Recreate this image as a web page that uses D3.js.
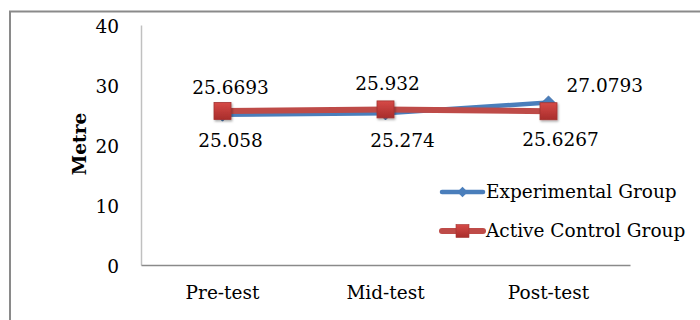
<!DOCTYPE html>
<html>
<head>
<meta charset="utf-8">
<script src="https://cdn.jsdelivr.net/npm/d3@7"></script>
<style>
  html, body { margin: 0; padding: 0; background: #fff; }
  svg { display: block; }
  text { font-family: "DejaVu Serif", "Liberation Serif", serif; fill: #000; }
</style>
</head>
<body>
<svg id="chart" width="700" height="320"></svg>
<script>
// Test phases and group means (metres)
const categories = ["Pre-test", "Mid-test", "Post-test"];
const experimental = [25.058, 25.274, 27.0793];
const activeControl = [25.6693, 25.932, 25.6267];
const yTicks = [0, 10, 20, 30, 40];
const seriesNames = ["Experimental Group", "Active Control Group"];

const FS = 18.5;
const svg = d3.select("#chart");

// outer frame
svg.append("rect")
  .attr("x", 10).attr("y", 11.5)
  .attr("width", 700).attr("height", 330)
  .attr("fill", "none").attr("stroke", "#8a8a8a").attr("stroke-width", 2);

const x = d3.scaleBand().domain(categories).range([141, 630]);
const y = d3.scaleLinear().domain([0, 40]).range([265, 25]);
const cx = c => x(c) + x.bandwidth() / 2;

// defs: gradient for the square markers
const defs = svg.append("defs");
const grad = defs.append("linearGradient").attr("id", "sqGrad")
  .attr("x1", "0").attr("y1", "0").attr("x2", "0").attr("y2", "1");
grad.append("stop").attr("offset", "0%").attr("stop-color", "#d64a47");
grad.append("stop").attr("offset", "100%").attr("stop-color", "#a82d2b");
const shadow = defs.append("filter").attr("id", "shadow")
  .attr("x", "-50%").attr("y", "-50%").attr("width", "200%").attr("height", "200%");
shadow.append("feDropShadow").attr("dx", 1).attr("dy", 1.5).attr("stdDeviation", 1.2)
  .attr("flood-color", "#000").attr("flood-opacity", 0.35);

// y axis
const yAxis = svg.append("g").attr("transform", "translate(141,0)")
  .call(d3.axisLeft(y).tickValues(yTicks).tickSize(0).tickPadding(22));
yAxis.select(".domain").attr("stroke", "#c0c0c0").attr("stroke-width", 1.5);
yAxis.selectAll("text")
  .attr("font-family", "DejaVu Serif").attr("font-size", FS).attr("dy", "0.38em");

// x axis
const xAxis = svg.append("g").attr("transform", "translate(0,265)")
  .call(d3.axisBottom(x).tickSize(0).tickPadding(21));
xAxis.select(".domain").attr("stroke", "#8a8a8a").attr("stroke-width", 1.5);
xAxis.selectAll("text")
  .attr("font-family", "DejaVu Serif").attr("font-size", FS).attr("dy", "0.71em");

// y axis title
svg.append("text")
  .attr("transform", "translate(86,144) rotate(-90)")
  .attr("text-anchor", "middle")
  .attr("font-size", FS).attr("font-weight", "bold")
  .text("Metre");

const line = d3.line().x((d, i) => cx(categories[i])).y(d => y(d));

// Experimental group: blue line with diamond markers
svg.append("path").datum(experimental)
  .attr("d", line).attr("fill", "none")
  .attr("stroke", "#4a7ebb").attr("stroke-width", 4.5).attr("stroke-linejoin", "round");
svg.selectAll(".diamond").data(experimental).join("path")
  .attr("class", "diamond")
  .attr("d", d3.symbol(d3.symbolDiamond2, 110))
  .attr("transform", (d, i) => `translate(${cx(categories[i])},${y(d)})`)
  .attr("fill", "#4a7ebb").attr("stroke", "#3b6aa5").attr("stroke-width", 0.8);

// Active control group: red line with square markers
svg.append("path").datum(activeControl)
  .attr("d", line).attr("fill", "none")
  .attr("stroke", "#be4b48").attr("stroke-width", 6).attr("stroke-linejoin", "round");
svg.selectAll(".square").data(activeControl).join("rect")
  .attr("class", "square")
  .attr("x", (d, i) => cx(categories[i]) - 8.5)
  .attr("y", d => y(d) - 8.5)
  .attr("width", 17).attr("height", 17)
  .attr("fill", "url(#sqGrad)").attr("stroke", "#a33431").attr("stroke-width", 0.8)
  .attr("filter", "url(#shadow)");

// value labels
const expLabelOffsets = [[8, 32], [17, 34], [18, -10.5]];
const ctlLabelOffsets = [[8, -17], [2, -19], [12, 35]];
const expAnchor = ["middle", "middle", "start"];

svg.selectAll(".expLabel").data(experimental).join("text")
  .attr("class", "expLabel")
  .attr("x", (d, i) => cx(categories[i]) + expLabelOffsets[i][0])
  .attr("y", d => y(d))
  .attr("dy", (d, i) => expLabelOffsets[i][1])
  .attr("text-anchor", (d, i) => expAnchor[i])
  .attr("font-size", FS)
  .text(d => d);

svg.selectAll(".ctlLabel").data(activeControl).join("text")
  .attr("class", "ctlLabel")
  .attr("x", (d, i) => cx(categories[i]) + ctlLabelOffsets[i][0])
  .attr("y", d => y(d))
  .attr("dy", (d, i) => ctlLabelOffsets[i][1])
  .attr("text-anchor", "middle")
  .attr("font-size", FS)
  .text(d => d);

// legend
const legend = svg.append("g").attr("transform", "translate(442,0)");
const legRows = [
  { name: seriesNames[0], y: 192, color: "#4a7ebb", w: 4.5, marker: "diamond" },
  { name: seriesNames[1], y: 231, color: "#be4b48", w: 6, marker: "square" }
];
legRows.forEach(r => {
  legend.append("line").attr("x1", 0).attr("x2", 41).attr("y1", r.y).attr("y2", r.y)
    .attr("stroke", r.color).attr("stroke-width", r.w).attr("stroke-linecap", "round");
  if (r.marker === "diamond") {
    legend.append("path").attr("d", d3.symbol(d3.symbolDiamond2, 70))
      .attr("transform", `translate(20.5,${r.y})`).attr("fill", r.color);
  } else {
    legend.append("rect").attr("x", 14).attr("y", r.y - 6.5).attr("width", 13).attr("height", 13)
      .attr("fill", "url(#sqGrad)").attr("stroke", "#a33431").attr("stroke-width", 0.6);
  }
  legend.append("text").attr("x", 44).attr("y", r.y + 6)
    .attr("font-size", FS).text(r.name);
});
</script>
</body>
</html>
